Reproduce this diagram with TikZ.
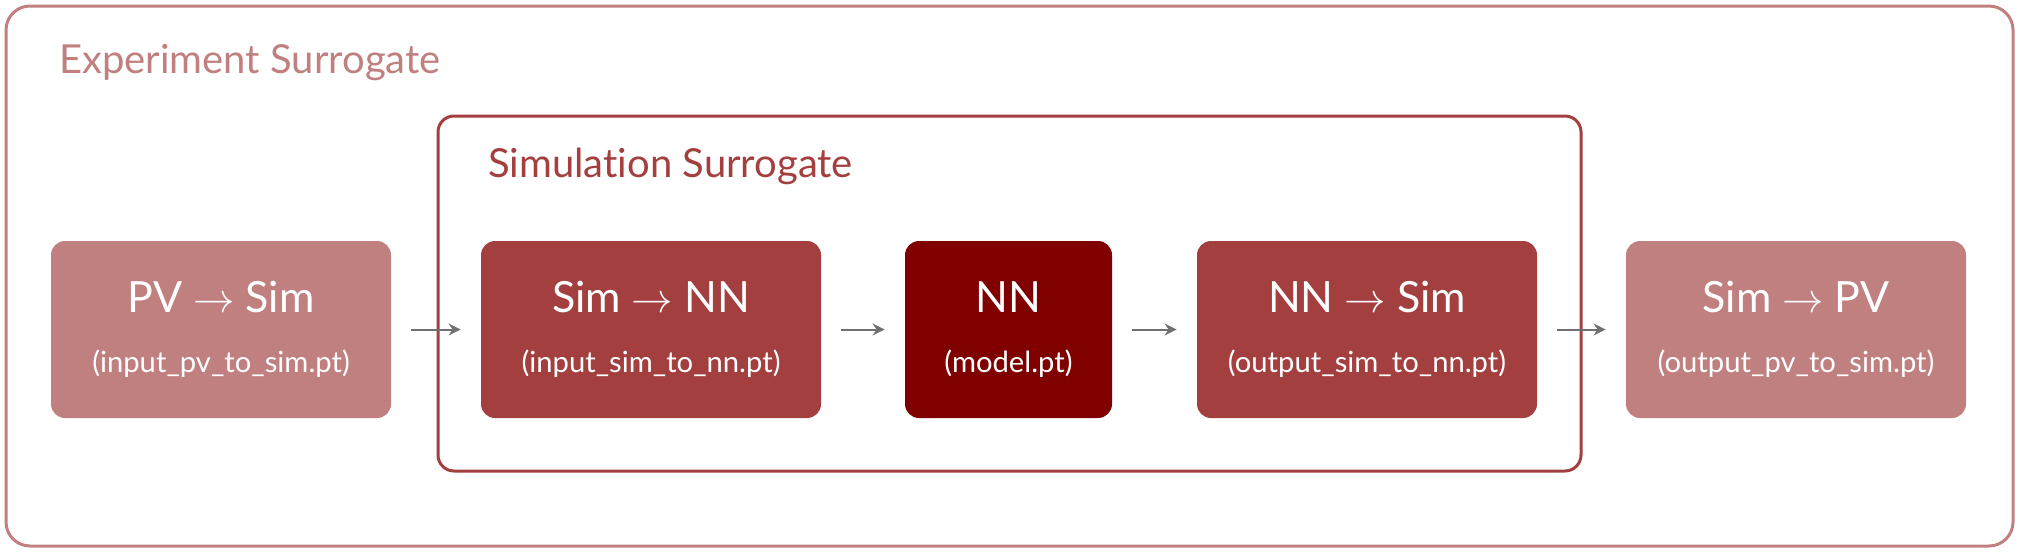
\documentclass[tikz,border=0pt]{standalone}
\usepackage{fontspec}
\setmainfont{Lato}[Ligatures=NoCommon]
\usetikzlibrary{arrows.meta, positioning}
\definecolor{exppink}{HTML}{C08080}
\definecolor{simred}{HTML}{A33F3F}
\definecolor{nnred}{HTML}{800000}
\definecolor{flowgray}{HTML}{707070}
\newcommand{\sublbl}{\fontsize{14.6pt}{29.8pt}\selectfont}

\tikzset{
  block/.style={rounded corners=7pt, minimum width=170pt, minimum height=88.5pt,
    text=white, align=center, inner sep=0pt, font=\fontsize{21.5pt}{29.8pt}\selectfont},
  frame/.style={line width=1.5pt},
  flow/.style={-{Stealth[length=6pt,width=6pt,inset=2pt]}, flowgray, line width=1pt,
    shorten <=10pt, shorten >=10pt},
  title/.style={anchor=base west, font=\fontsize{20pt}{24pt}\selectfont}
}

\begin{document}
\begin{tikzpicture}[x=0.5pt, y=-0.5pt]
\useasboundingbox (0,0) rectangle (2019,552);

% outer and inner frames
\draw[frame, exppink, rounded corners=12pt] (6,6) rectangle (2013,546);
\node[title, text=exppink] (exptitle) at (52,73) {Experiment Surrogate};
\draw[frame, simred, rounded corners=8pt] (438,116) rectangle (1581,471);
\node[title, text=simred] (simtitle) at (481,177) {Simulation Surrogate};

% conversion steps
\node[block, fill=exppink] (pvsim) at (221,329.5)
  {PV $\rightarrow$ Sim\\\sublbl (input\_pv\_to\_sim.pt)};
\node[block, fill=simred] (simnn) at (651,329.5)
  {Sim $\rightarrow$ NN\\\sublbl (input\_sim\_to\_nn.pt)};
\node[block, fill=nnred, minimum width=103.5pt] (model) at (1008.5,329.5)
  {NN\\\sublbl (model.pt)};
\node[block, fill=simred] (nnsim) at (1367,329.5)
  {NN $\rightarrow$ Sim\\\sublbl (output\_sim\_to\_nn.pt)};
\node[block, fill=exppink] (simpv) at (1796,329.5)
  {Sim $\rightarrow$ PV\\\sublbl (output\_pv\_to\_sim.pt)};

\draw[flow] (pvsim) -- (simnn);
\draw[flow] (simnn) -- (model);
\draw[flow] (model) -- (nnsim);
\draw[flow] (nnsim) -- (simpv);
\end{tikzpicture}
\end{document}
